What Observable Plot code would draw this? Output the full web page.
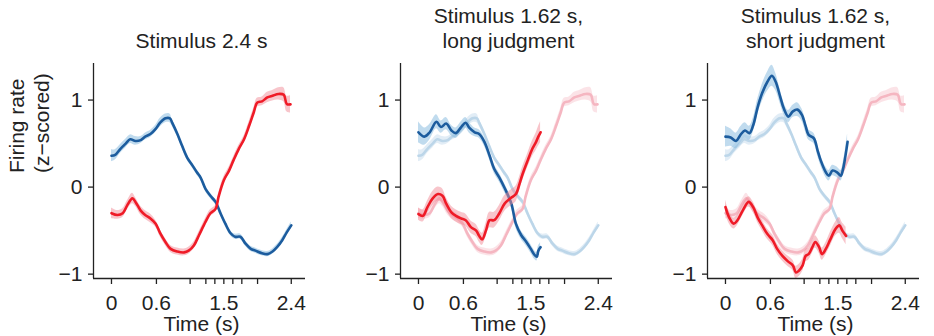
<!DOCTYPE html>
<html>
<head>
<meta charset="utf-8">
<script src="https://cdn.jsdelivr.net/npm/d3@7"></script>
<script src="https://cdn.jsdelivr.net/npm/@observablehq/plot@0.6"></script>
<style>
  body { margin: 0; background: #fff; }
  #chart { position: relative; width: 934px; height: 336px; overflow: hidden; }
  #chart svg { position: absolute; top: 0; }
</style>
</head>
<body>
<div id="chart"></div>
<script>
// Axis ticks: the stimulus durations (s); only some are labelled
const xTicks = [0, 0.6, 1.05, 1.26, 1.38, 1.5, 1.62, 1.74, 1.95, 2.4];
const xTickLabels = [0, 0.6, 1.5, 2.4];
const yTicks = [-1, 0, 1];
const xDomain = [-0.24, 2.59];
const yDomain = [-1.05, 1.42];

const titles = [
  "Stimulus 2.4 s",
  "Stimulus 1.62 s,\nlong judgment",
  "Stimulus 1.62 s,\nshort judgment"
];

// Population firing rate, rows are [time (s), mean z-score, s.e.m.]
// Stimulus 2.4 s
const blue24 = [
  [0, 0.36, 0.07], [0.05, 0.37, 0.06], [0.12, 0.44, 0.05], [0.19, 0.50, 0.05], [0.25, 0.55, 0.05],
  [0.32, 0.53, 0.05], [0.39, 0.54, 0.04], [0.45, 0.58, 0.04], [0.52, 0.61, 0.04], [0.59, 0.67, 0.04],
  [0.65, 0.74, 0.05], [0.72, 0.79, 0.05], [0.78, 0.79, 0.05], [0.81, 0.74, 0.04], [0.88, 0.61, 0.03],
  [0.94, 0.48, 0.03], [1.01, 0.34, 0.03], [1.08, 0.25, 0.03], [1.14, 0.17, 0.03], [1.19, 0.11, 0.03],
  [1.255, -0.02, 0.03], [1.32, -0.10, 0.03], [1.39, -0.17, 0.03], [1.45, -0.29, 0.03], [1.52, -0.42, 0.03],
  [1.59, -0.53, 0.03], [1.65, -0.57, 0.03], [1.72, -0.57, 0.03], [1.79, -0.65, 0.03], [1.86, -0.71, 0.03],
  [1.92, -0.73, 0.03], [2.01, -0.76, 0.03], [2.08, -0.77, 0.03], [2.15, -0.74, 0.03], [2.21, -0.69, 0.03],
  [2.28, -0.61, 0.03], [2.34, -0.52, 0.03], [2.40, -0.44, 0.04]
];
const red24 = [
  [0, -0.30, 0.06], [0.08, -0.32, 0.05], [0.15, -0.30, 0.05], [0.21, -0.21, 0.05], [0.28, -0.13, 0.06],
  [0.32, -0.17, 0.05], [0.39, -0.27, 0.05], [0.45, -0.32, 0.05], [0.52, -0.36, 0.05], [0.59, -0.42, 0.04],
  [0.65, -0.53, 0.04], [0.72, -0.63, 0.04], [0.79, -0.71, 0.04], [0.88, -0.74, 0.04], [0.97, -0.75, 0.04],
  [1.03, -0.73, 0.04], [1.10, -0.67, 0.04], [1.17, -0.55, 0.04], [1.255, -0.40, 0.04], [1.32, -0.30, 0.04],
  [1.39, -0.25, 0.04], [1.43, -0.11, 0.04], [1.50, 0.08, 0.04], [1.57, 0.19, 0.04], [1.63, 0.31, 0.04],
  [1.70, 0.44, 0.04], [1.77, 0.55, 0.04], [1.84, 0.71, 0.05], [1.90, 0.86, 0.05], [1.945, 0.97, 0.05],
  [2.01, 0.985, 0.05], [2.08, 1.03, 0.06], [2.15, 1.05, 0.06], [2.23, 1.07, 0.07], [2.30, 1.06, 0.08],
  [2.34, 0.955, 0.09], [2.39, 0.95, 0.10]
];

// Stimulus 1.62 s, long judgment
const blueLong = [
  [0, 0.63, 0.12], [0.08, 0.58, 0.10], [0.15, 0.63, 0.09], [0.24, 0.75, 0.08], [0.30, 0.69, 0.07],
  [0.37, 0.73, 0.07], [0.44, 0.65, 0.06], [0.50, 0.62, 0.06], [0.57, 0.69, 0.06], [0.63, 0.74, 0.06],
  [0.68, 0.68, 0.06], [0.75, 0.63, 0.05], [0.81, 0.61, 0.05], [0.88, 0.52, 0.05], [0.95, 0.36, 0.05],
  [1.01, 0.21, 0.05], [1.08, 0.11, 0.05], [1.15, -0.01, 0.05], [1.24, -0.19, 0.05], [1.30, -0.42, 0.05],
  [1.37, -0.55, 0.05], [1.44, -0.63, 0.05], [1.50, -0.71, 0.05], [1.55, -0.78, 0.05], [1.58, -0.80, 0.05],
  [1.60, -0.73, 0.05], [1.63, -0.69, 0.05]
];
const redLong = [
  [0, -0.31, 0.07], [0.06, -0.33, 0.07], [0.12, -0.23, 0.07], [0.19, -0.13, 0.08], [0.26, -0.08, 0.08],
  [0.32, -0.10, 0.08], [0.37, -0.19, 0.07], [0.44, -0.29, 0.07], [0.50, -0.33, 0.07], [0.57, -0.36, 0.07],
  [0.63, -0.38, 0.07], [0.70, -0.46, 0.07], [0.77, -0.50, 0.07], [0.81, -0.56, 0.07], [0.85, -0.60, 0.07],
  [0.90, -0.50, 0.08], [0.95, -0.38, 0.09], [1.01, -0.38, 0.09], [1.08, -0.30, 0.09], [1.15, -0.19, 0.09],
  [1.24, -0.12, 0.09], [1.30, -0.08, 0.09], [1.35, 0.04, 0.08], [1.39, 0.15, 0.08], [1.46, 0.31, 0.08],
  [1.52, 0.44, 0.09], [1.57, 0.52, 0.10], [1.60, 0.58, 0.11], [1.63, 0.63, 0.12]
];

// Stimulus 1.62 s, short judgment
const blueShort = [
  [0, 0.58, 0.12], [0.07, 0.57, 0.10], [0.14, 0.53, 0.09], [0.20, 0.60, 0.09], [0.26, 0.65, 0.09],
  [0.32, 0.62, 0.08], [0.37, 0.71, 0.08], [0.43, 0.92, 0.09], [0.49, 1.08, 0.10], [0.56, 1.21, 0.11],
  [0.62, 1.28, 0.12], [0.67, 1.21, 0.10], [0.73, 1.04, 0.08], [0.78, 0.90, 0.07], [0.84, 0.81, 0.07],
  [0.90, 0.87, 0.07], [0.96, 0.89, 0.08], [1.02, 0.83, 0.07], [1.07, 0.70, 0.07], [1.11, 0.60, 0.06],
  [1.18, 0.56, 0.06], [1.23, 0.42, 0.06], [1.27, 0.31, 0.06], [1.34, 0.17, 0.06], [1.38, 0.13, 0.06],
  [1.43, 0.19, 0.06], [1.49, 0.17, 0.06], [1.54, 0.13, 0.06], [1.57, 0.21, 0.07], [1.60, 0.35, 0.08],
  [1.63, 0.52, 0.09]
];
const redShort = [
  [0, -0.23, 0.08], [0.05, -0.35, 0.07], [0.11, -0.42, 0.06], [0.16, -0.38, 0.06], [0.23, -0.27, 0.06],
  [0.31, -0.17, 0.06], [0.37, -0.23, 0.06], [0.43, -0.35, 0.06], [0.49, -0.44, 0.06], [0.56, -0.54, 0.06],
  [0.63, -0.61, 0.06], [0.69, -0.71, 0.06], [0.76, -0.79, 0.06], [0.83, -0.85, 0.06], [0.90, -0.90, 0.06],
  [0.94, -0.98, 0.07], [0.98, -0.96, 0.07], [1.03, -0.90, 0.07], [1.07, -0.79, 0.07], [1.11, -0.77, 0.07],
  [1.16, -0.69, 0.07], [1.20, -0.63, 0.07], [1.25, -0.69, 0.07], [1.29, -0.77, 0.07], [1.34, -0.71, 0.07],
  [1.40, -0.60, 0.08], [1.47, -0.48, 0.08], [1.52, -0.44, 0.09], [1.56, -0.50, 0.09], [1.61, -0.56, 0.10]
];

const colors = {
  blue: "#1c5c9e", blueBand: "#8dbde0",
  red: "#ef1b27", redBand: "#f28c98",
  blueFaded: "#bcd6e9", blueFadedBand: "#dbe9f4",
  redFaded: "#f5b6c1", redFadedBand: "#fadce1"
};
const font = "'Liberation Sans', Arial, sans-serif";

const toRows = (arr) => arr.map(([t, m, s]) => ({t, m, lo: m - s, hi: m + s}));
const fmtY = (d) => String(d).replace("-", "\u2212");

function seriesMarks(arr, stroke, band, bandOpacity) {
  const rows = toRows(arr);
  return [
    Plot.areaY(rows, {x: "t", y1: "lo", y2: "hi", fill: band, fillOpacity: bandOpacity, curve: "catmull-rom"}),
    Plot.lineY(rows, {x: "t", y: "m", stroke, strokeWidth: 2.6, curve: "catmull-rom"})
  ];
}

function panel({title, blue, red, faded, yLabel}) {
  const marks = [];
  if (faded) {
    marks.push(
      ...seriesMarks(blue24, colors.blueFaded, colors.blueFadedBand, 0.8),
      ...seriesMarks(red24, colors.redFaded, colors.redFadedBand, 0.8)
    );
  }
  marks.push(
    ...seriesMarks(blue, colors.blue, colors.blueBand, 0.55),
    ...seriesMarks(red, colors.red, colors.redBand, 0.5),
    // L-shaped axis lines
    Plot.ruleX([xDomain[0]], {stroke: "#222", strokeWidth: 1.3}),
    Plot.ruleY([yDomain[0]], {stroke: "#222", strokeWidth: 1.3}),
    Plot.axisY({ticks: yTicks, tickSize: 5, tickPadding: 6, label: null, strokeWidth: 1.3, stroke: "#222", tickFormat: fmtY}),
    Plot.axisX({
      ticks: xTicks, tickSize: 6, tickPadding: 11, label: null, strokeWidth: 1.3, stroke: "#222",
      tickFormat: (d) => xTickLabels.includes(d) ? String(d) : ""
    }),
    Plot.text(["Time (s)"], {text: (d) => d, frameAnchor: "bottom", lineAnchor: "middle", dy: 46, dx: 2, fill: "#222"}),
    Plot.text([title], {text: (d) => d, frameAnchor: "top", lineAnchor: "bottom", dy: -16, dx: 2, lineHeight: 1.15, fill: "#222"})
  );
  if (yLabel) {
    marks.push(Plot.text([yLabel], {
      text: (d) => d, frameAnchor: "left", rotate: -90, lineAnchor: "middle",
      lineHeight: 1.2, dx: -65, dy: 2, fill: "#222"
    }));
  }
  return Plot.plot({
    width: 304,
    height: 336,
    marginLeft: 88,
    marginRight: 4,
    marginTop: 63,
    marginBottom: 58,
    x: {domain: xDomain},
    y: {domain: yDomain},
    style: {fontFamily: font, fontSize: "21px", color: "#222", background: "transparent", overflow: "visible"},
    marks
  });
}

const panels = [
  {title: titles[0], blue: blue24, red: red24, faded: false, yLabel: "Firing rate\n(z\u2212scored)"},
  {title: titles[1], blue: blueLong, red: redLong, faded: true},
  {title: titles[2], blue: blueShort, red: redShort, faded: true}
];
const lefts = [5, 312, 619];

const chart = document.getElementById("chart");
panels.forEach((p, i) => {
  const svg = panel(p);
  svg.style.left = lefts[i] + "px";
  chart.appendChild(svg);
});
</script>
</body>
</html>
